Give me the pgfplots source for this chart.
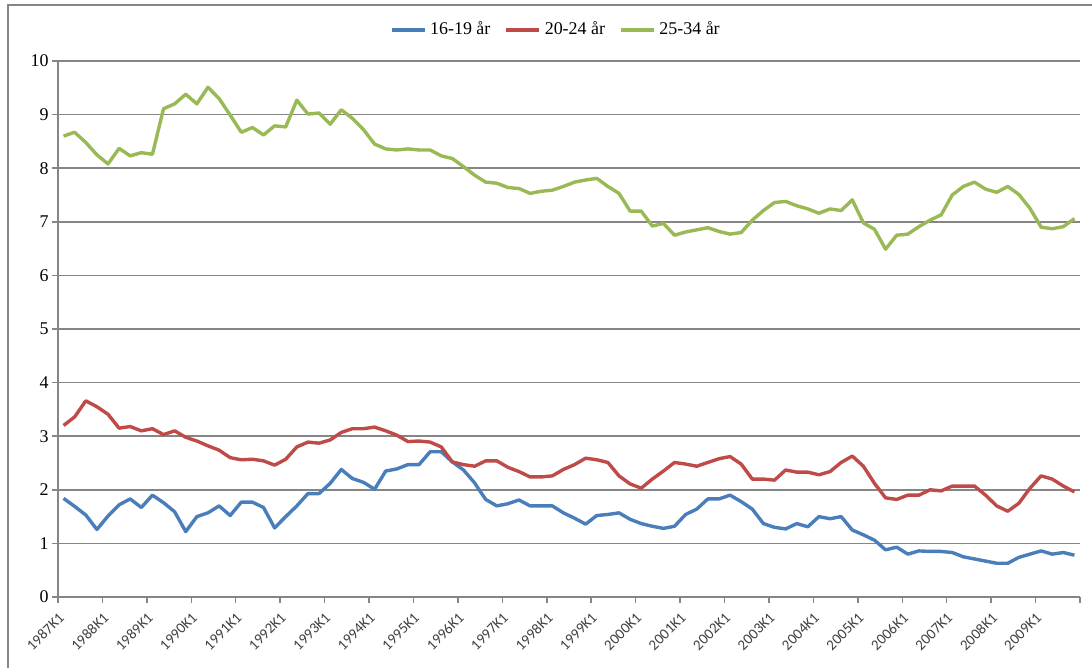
\documentclass[border=0pt]{standalone}
\usepackage{fontspec}
\setmainfont{Liberation Serif}
\newfontfamily\calibri{Carlito}
\usepackage{pgfplots}
\usepackage{pgfplotstable}
\pgfplotsset{compat=1.18}

\definecolor{serblue}{RGB}{74,126,187}
\definecolor{serred}{RGB}{190,75,72}
\definecolor{sergreen}{RGB}{152,185,84}
\definecolor{gridgray}{RGB}{134,134,134}

% k = quarter index from 1987K1, then the three age groups
\pgfplotstableread{
k  a     b     c
0  1.84  3.20  8.60
1  1.69  3.36  8.67
2  1.53  3.66  8.48
3  1.26  3.55  8.25
4  1.51  3.41  8.08
5  1.72  3.15  8.37
6  1.83  3.18  8.23
7  1.67  3.10  8.29
8  1.90  3.14  8.26
9  1.76  3.03  9.11
10 1.59  3.10  9.20
11 1.22  2.98  9.38
12 1.50  2.91  9.20
13 1.57  2.82  9.51
14 1.70  2.74  9.30
15 1.52  2.60  8.99
16 1.77  2.56  8.67
17 1.77  2.57  8.76
18 1.67  2.54  8.62
19 1.29  2.46  8.79
20 1.50  2.57  8.77
21 1.70  2.80  9.27
22 1.93  2.89  9.01
23 1.93  2.87  9.03
24 2.12  2.93  8.82
25 2.38  3.07  9.09
26 2.21  3.14  8.93
27 2.14  3.14  8.72
28 2.01  3.17  8.45
29 2.35  3.10  8.36
30 2.39  3.02  8.34
31 2.47  2.90  8.36
32 2.47  2.91  8.34
33 2.71  2.89  8.34
34 2.71  2.80  8.23
35 2.52  2.52  8.18
36 2.37  2.47  8.03
37 2.13  2.44  7.87
38 1.82  2.54  7.74
39 1.70  2.54  7.72
40 1.74  2.42  7.64
41 1.81  2.34  7.62
42 1.70  2.24  7.53
43 1.70  2.24  7.57
44 1.70  2.26  7.59
45 1.57  2.38  7.66
46 1.47  2.47  7.74
47 1.36  2.59  7.78
48 1.52  2.56  7.81
49 1.54  2.51  7.66
50 1.57  2.26  7.53
51 1.45  2.11  7.20
52 1.37  2.03  7.20
53 1.32  2.20  6.92
54 1.28  2.35  6.97
55 1.32  2.51  6.75
56 1.54  2.48  6.81
57 1.64  2.44  6.85
58 1.83  2.51  6.89
59 1.83  2.58  6.82
60 1.90  2.62  6.77
61 1.78  2.48  6.80
62 1.64  2.20  7.03
63 1.37  2.20  7.21
64 1.30  2.18  7.36
65 1.27  2.37  7.38
66 1.37  2.33  7.30
67 1.31  2.33  7.24
68 1.50  2.28  7.16
69 1.46  2.34  7.24
70 1.50  2.51  7.21
71 1.25  2.63  7.41
72 1.16  2.44  6.98
73 1.06  2.12  6.86
74 0.88  1.85  6.49
75 0.93  1.82  6.75
76 0.80  1.90  6.77
77 0.86  1.90  6.91
78 0.85  2.00  7.03
79 0.85  1.98  7.13
80 0.83  2.07  7.50
81 0.75  2.07  7.66
82 0.71  2.07  7.74
83 0.67  1.90  7.61
84 0.63  1.70  7.55
85 0.63  1.60  7.66
86 0.74  1.75  7.51
87 0.80  2.03  7.25
88 0.86  2.26  6.90
89 0.80  2.20  6.87
90 0.83  2.07  6.91
91 0.78  1.96  7.06
}\ungdom

\begin{document}
\begin{tikzpicture}
\useasboundingbox (0bp,0bp) rectangle (546bp,-334bp);
% chart area frame (only left and top edges are inside the picture)
\draw[gridgray, line width=0.6bp] (4bp,-334bp) -- (4bp,-2.5bp) -- (546bp,-2.5bp);
\begin{axis}[
    at={(29bp,-298.5bp)}, anchor=south west,
    scale only axis,
    width=511bp, height=268bp,
    xmin=-0.5, xmax=91.5,
    ymin=0, ymax=10,
    axis lines=left,
    axis line style={gridgray, line width=0.75bp, -},
    ytick={0,1,...,10},
    ymajorgrids,
    grid style={gridgray, line width=0.75bp},
    xtick={0,4,...,88},
    xticklabels={1987K1,1988K1,1989K1,1990K1,1991K1,1992K1,1993K1,1994K1,1995K1,1996K1,1997K1,1998K1,1999K1,2000K1,2001K1,2002K1,2003K1,2004K1,2005K1,2006K1,2007K1,2008K1,2009K1},
    minor xtick={-0.5,3.5,...,91.5},
    tick align=outside,
    major tick length=3bp,
    minor tick length=3bp,
    x tick style={draw=none},
    minor x tick style={draw=gridgray, line width=0.75bp},
    y tick style={draw=gridgray, line width=0.75bp},
    % shifts act in the rotated frame of the label
    xticklabel style={font=\calibri\fontsize{7.5}{8}\selectfont, text=black!75, rotate=45, anchor=north east, inner sep=0.5bp, xshift=-4.5bp, yshift=-0.4bp},
    yticklabel style={font=\fontsize{9}{9}\selectfont, inner sep=1.5bp},
    /pgf/number format/assume math mode=true,
    legend columns=3,
    legend style={at={(0.488,1.058)}, anchor=center, draw=none, fill=none,
        font=\fontsize{9}{10}\selectfont, inner sep=0pt,
        /tikz/every even column/.append style={column sep=5bp}},
    legend image code/.code={\draw[#1] (0bp,0bp) -- (16.5bp,0bp);},
    every axis plot/.append style={line width=1.7bp, line join=round},
]
\addplot[serblue] table[x=k, y=a] {\ungdom};
\addlegendentry{16-19 år}
\addplot[serred] table[x=k, y=b] {\ungdom};
\addlegendentry{20-24 år}
\addplot[sergreen] table[x=k, y=c] {\ungdom};
\addlegendentry{25-34 år}
\end{axis}
\end{tikzpicture}
\end{document}
